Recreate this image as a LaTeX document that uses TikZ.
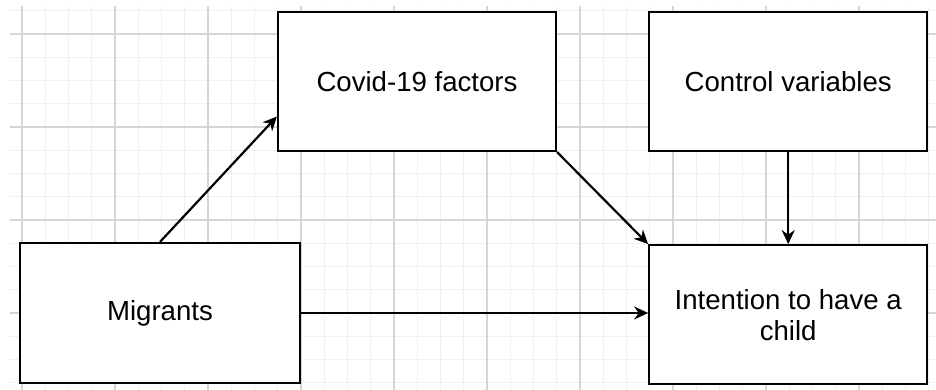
\documentclass[tikz,border=0pt]{standalone}
\usepackage{fontspec}
\setmainfont{Liberation Sans}
\usepackage{tikz}
\usetikzlibrary{arrows.meta,positioning}

\begin{document}
\begin{tikzpicture}[x=0.5pt, y=-0.5pt, >={Stealth[length=7pt,width=6.5pt]},
  box/.style={draw, line width=1.1pt, fill=white, minimum width=139pt, minimum height=69.5pt,
    align=center, font=\fontsize{13.8}{15.5}\selectfont},
  link/.style={->, line width=1.1pt},
  minorgrid/.style={black!6, line width=0.6pt}, majorgrid/.style={black!16, line width=0.6pt}]
  \useasboundingbox[fill=white] (0,0) rectangle (936,390);
  \begin{scope}
  \clip (10,6) rectangle (936,390);
  \foreach \i in {-1,...,40} \draw[minorgrid] ({22+23.25*\i},6) -- ({22+23.25*\i},390);
  \foreach \i in {-2,...,16} \draw[minorgrid] (10,{34+23.25*\i}) -- (936,{34+23.25*\i});
  \foreach \i in {0,...,10} \draw[majorgrid] ({22+93*\i},6) -- ({22+93*\i},390);
  \foreach \i in {0,...,4} \draw[majorgrid] (10,{34+93*\i}) -- (936,{34+93*\i});
  \end{scope}
  \node[box] (cov) at (417,81.5) {Covid-19 factors};
  \node[box, right=45.5pt of cov] (ctrl) {Control variables};
  \node[box, below=46pt of ctrl] (int) {Intention to have a\\child};
  \node[box, minimum width=140pt, minimum height=70pt] (mig) at (160,313) {Migrants};
  \draw[link] (mig.north) -- ([yshift=-17.5pt]cov.west);
  \draw[link] (cov.south east) -- (int.north west);
  \draw[link] (ctrl.south) -- (int.north);
  \draw[link] (mig.east) -- (mig.east -| int.west);
\end{tikzpicture}
\end{document}
